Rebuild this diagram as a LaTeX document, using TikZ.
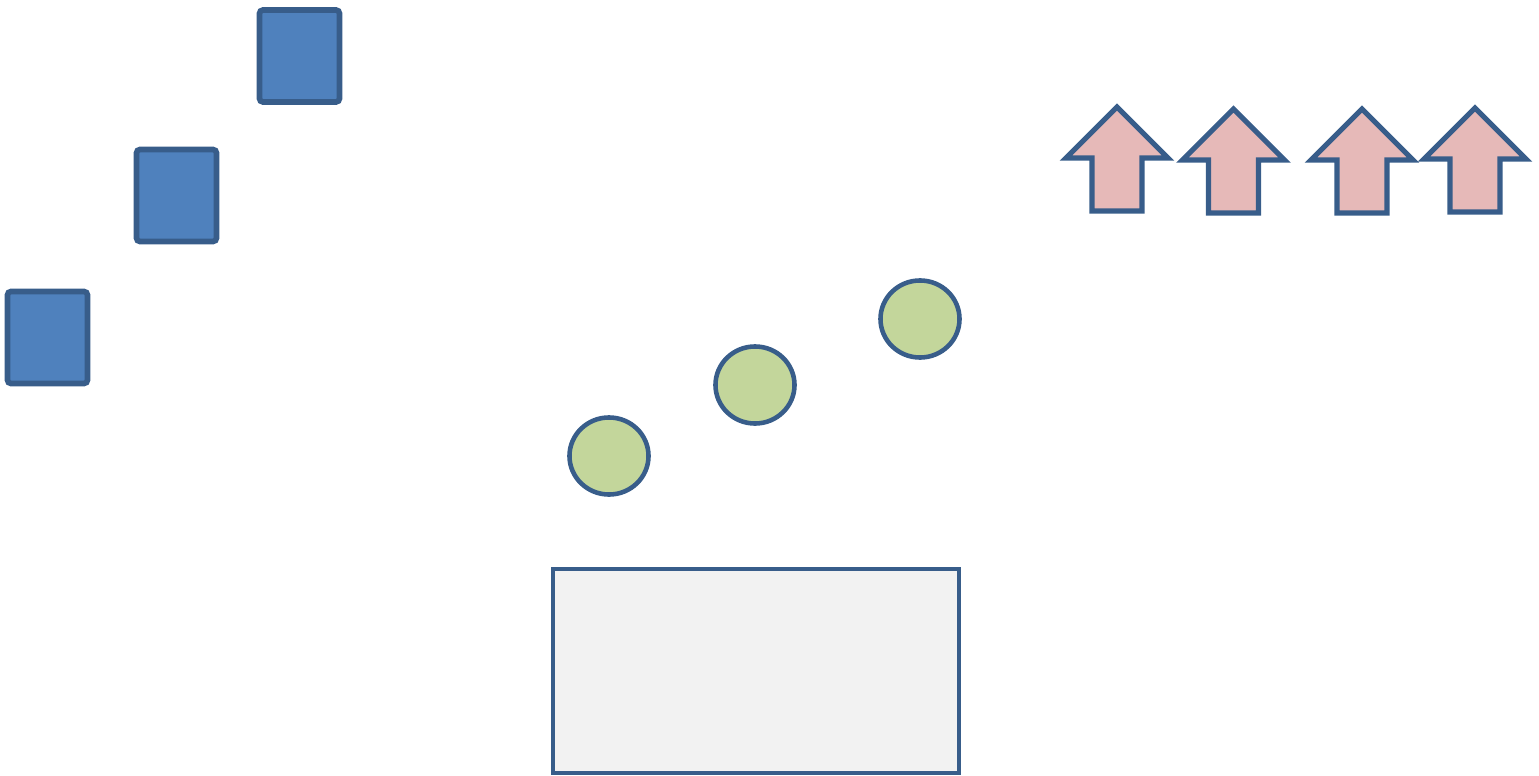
\documentclass[tikz,border=0pt]{standalone}
\usepackage{tikz}
\definecolor{edgeblue}{RGB}{56,93,138}
\definecolor{boxblue}{RGB}{79,129,189}
\definecolor{ballgreen}{RGB}{195,214,155}
\definecolor{arrowpink}{RGB}{230,185,184}
\definecolor{basegrey}{RGB}{242,242,242}
\usetikzlibrary{shapes.geometric}
\tikzset{
  blockbox/.style={draw=edgeblue,line width=1.6pt,fill=boxblue,rounded corners=1pt,
    inner sep=0pt,minimum width=0.80cm,minimum height=0.92cm},
  ballnode/.style={ellipse,draw=edgeblue,line width=1.3pt,fill=ballgreen,
    inner sep=0pt,minimum width=0.79cm,minimum height=0.77cm},
  basebox/.style={draw=edgeblue,line width=1.3pt,fill=basegrey,
    inner sep=0pt,minimum width=4.06cm,minimum height=2.04cm},
  uparrow/.style={draw=edgeblue,line width=1.5pt,fill=arrowpink,miter limit=10}
}

\begin{document}
\begin{tikzpicture}[x=0.01cm,y=-0.01cm]
\useasboundingbox (0,0) rectangle (1539,776);
% squares
\node[blockbox] (sq1) at (299.5,56) {};
\node[blockbox] (sq2) at (176.5,195.5) {};
\node[blockbox] (sq3) at (47.5,337.5) {};
% balls
\node[ballnode] (ball1) at (609,456) {};
\node[ballnode] (ball2) at (755,385) {};
\node[ballnode] (ball3) at (920,319) {};
% base
\node[basebox] (base) at (756,671) {};
% arrows
\foreach \tx/\ty in {1117/107,1233.5/109,1362/109,1475/108}
  \draw[uparrow] (\tx,\ty) -- ++(51,51) -- ++(-26,0) -- ++(0,53) -- ++(-50,0)
    -- ++(0,-53) -- ++(-26,0) -- cycle;
\end{tikzpicture}
\end{document}
